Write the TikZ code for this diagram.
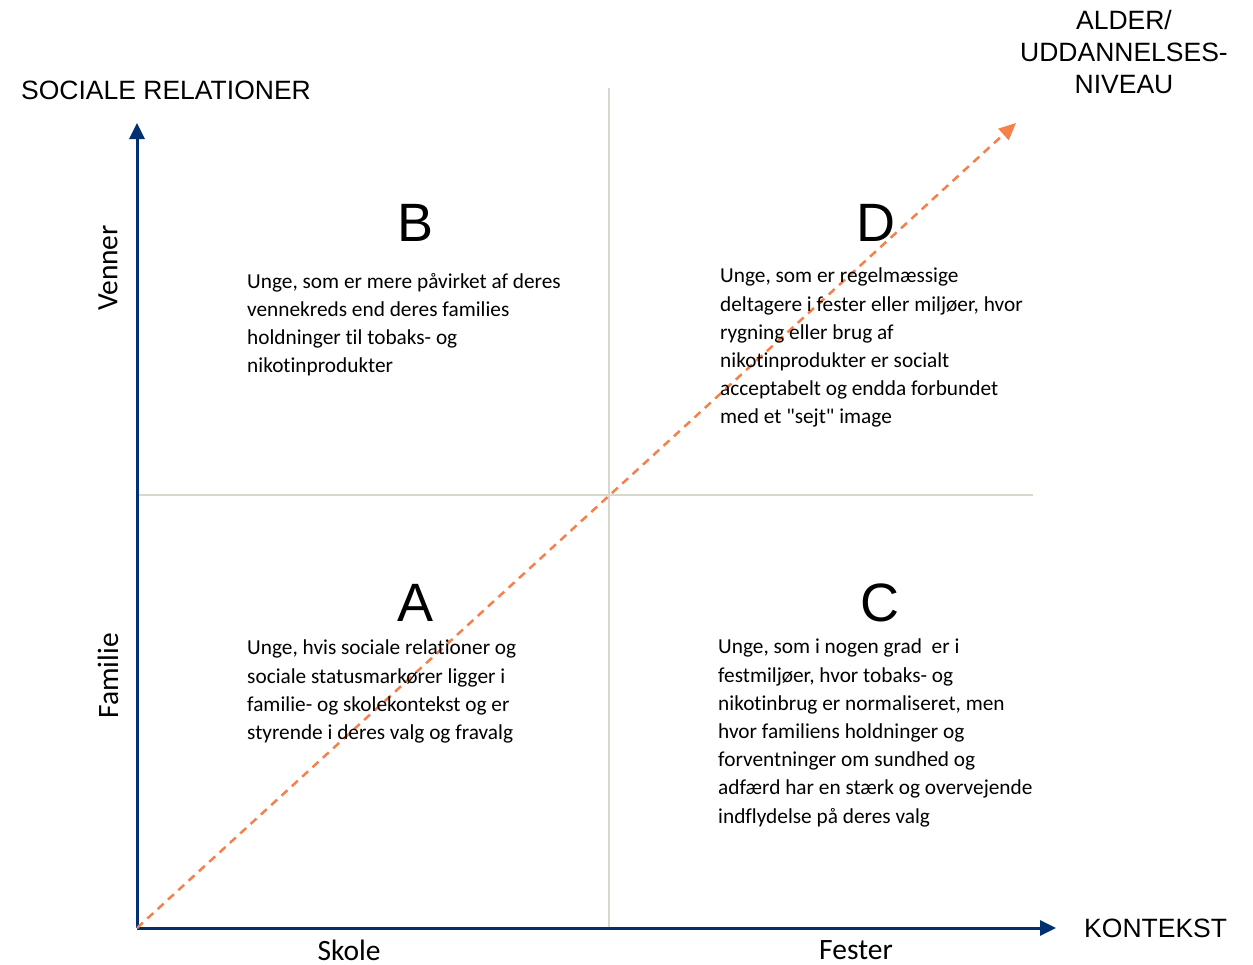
\documentclass[tikz,border=0pt]{standalone}
\usepackage{fontspec}
\setmainfont{Liberation Sans}
\newfontfamily\bodyfont[Ligatures=NoCommon]{Carlito}
\usetikzlibrary{arrows.meta}
\definecolor{axisblue}{HTML}{003070}
\definecolor{gridgrey}{HTML}{D9D6CC}
\definecolor{dashorange}{HTML}{F4804A}
\tikzset{
  axisline/.style={draw=axisblue, line width=3pt, -{Triangle[length=16pt,width=15pt]}},
  gridline/.style={draw=gridgrey, line width=1.5pt},
  diagline/.style={draw=dashorange, line width=2.5pt, dash pattern=on 8pt off 6pt, -{Triangle[length=17pt,width=15pt]}},
  axlabel/.style={font=\fontsize{26.5}{32}\selectfont, inner sep=0pt, align=center},
  sidelabel/.style={font=\bodyfont\fontsize{29.5}{32}\selectfont, inner sep=0pt},
  quadletter/.style={font=\fontsize{54}{60}\selectfont, inner sep=0pt},
  body/.style={font=\bodyfont\fontsize{21.3}{28.2}\selectfont, inner sep=0pt, align=left, anchor=north west}
}
\begin{document}
\begin{tikzpicture}[x=1pt,y=-1pt]
\useasboundingbox (0,0) rectangle (1253,964);
\coordinate (O) at (137,928);
\coordinate (Ytip) at (137,123);
\coordinate (Xtip) at (1056,928);
\coordinate (Dtip) at (1016,123);
\coordinate (Vtop) at (609,88);
\coordinate (Vbot) at (609,928);
\coordinate (Hl) at (137,495);
\coordinate (Hr) at (1033,495);
\draw[gridline] (Vtop) -- (Vbot);
\draw[gridline] (Hl) -- (Hr);
\draw[axisline] (O) -- (Ytip);
\draw[axisline] (O) -- (Xtip);
\draw[diagline] (O) -- (Dtip);

\node[axlabel, anchor=west] (ylab) at (21,90) {SOCIALE RELATIONER};
\node[axlabel] (dlab) at (1124,52) {ALDER/\\UDDANNELSES-\\NIVEAU};
\node[axlabel, anchor=west] (xlab) at (1084,928) {KONTEKST};
\node[sidelabel, rotate=90] (venner) at (108,268) {Venner};
\node[sidelabel, rotate=90] (familie) at (108,676) {Familie};
\node[sidelabel] (skole) at (349,950) {Skole};
\node[sidelabel] (fester) at (856,950) {Fester};

\node[quadletter] (B) at (416,223) {B};
\node[quadletter] (D) at (876,223) {D};
\node[quadletter] (A) at (416,603) {A};
\node[quadletter] (C) at (880,603) {C};

\node[body] (Btext) at (247,273) {Unge, som er mere påvirket af deres\\vennekreds end deres families\\holdninger til tobaks- og\\nikotinprodukter};
\node[body] (Dtext) at (720,268) {Unge, som er regelmæssige\\deltagere i fester eller miljøer, hvor\\rygning eller brug af\\nikotinprodukter er socialt\\acceptabelt og endda forbundet\\med et "sejt" image};
\node[body] (Atext) at (247,640) {Unge, hvis sociale relationer og\\sociale statusmarkører ligger i\\familie- og skolekontekst og er\\styrende i deres valg og fravalg};
\node[body] (Ctext) at (718,639) {Unge, som i nogen grad\ \ er i\\festmiljøer, hvor tobaks- og\\nikotinbrug er normaliseret, men\\hvor familiens holdninger og\\forventninger om sundhed og\\adfærd har en stærk og overvejende\\indflydelse på deres valg};
\end{tikzpicture}
\end{document}
